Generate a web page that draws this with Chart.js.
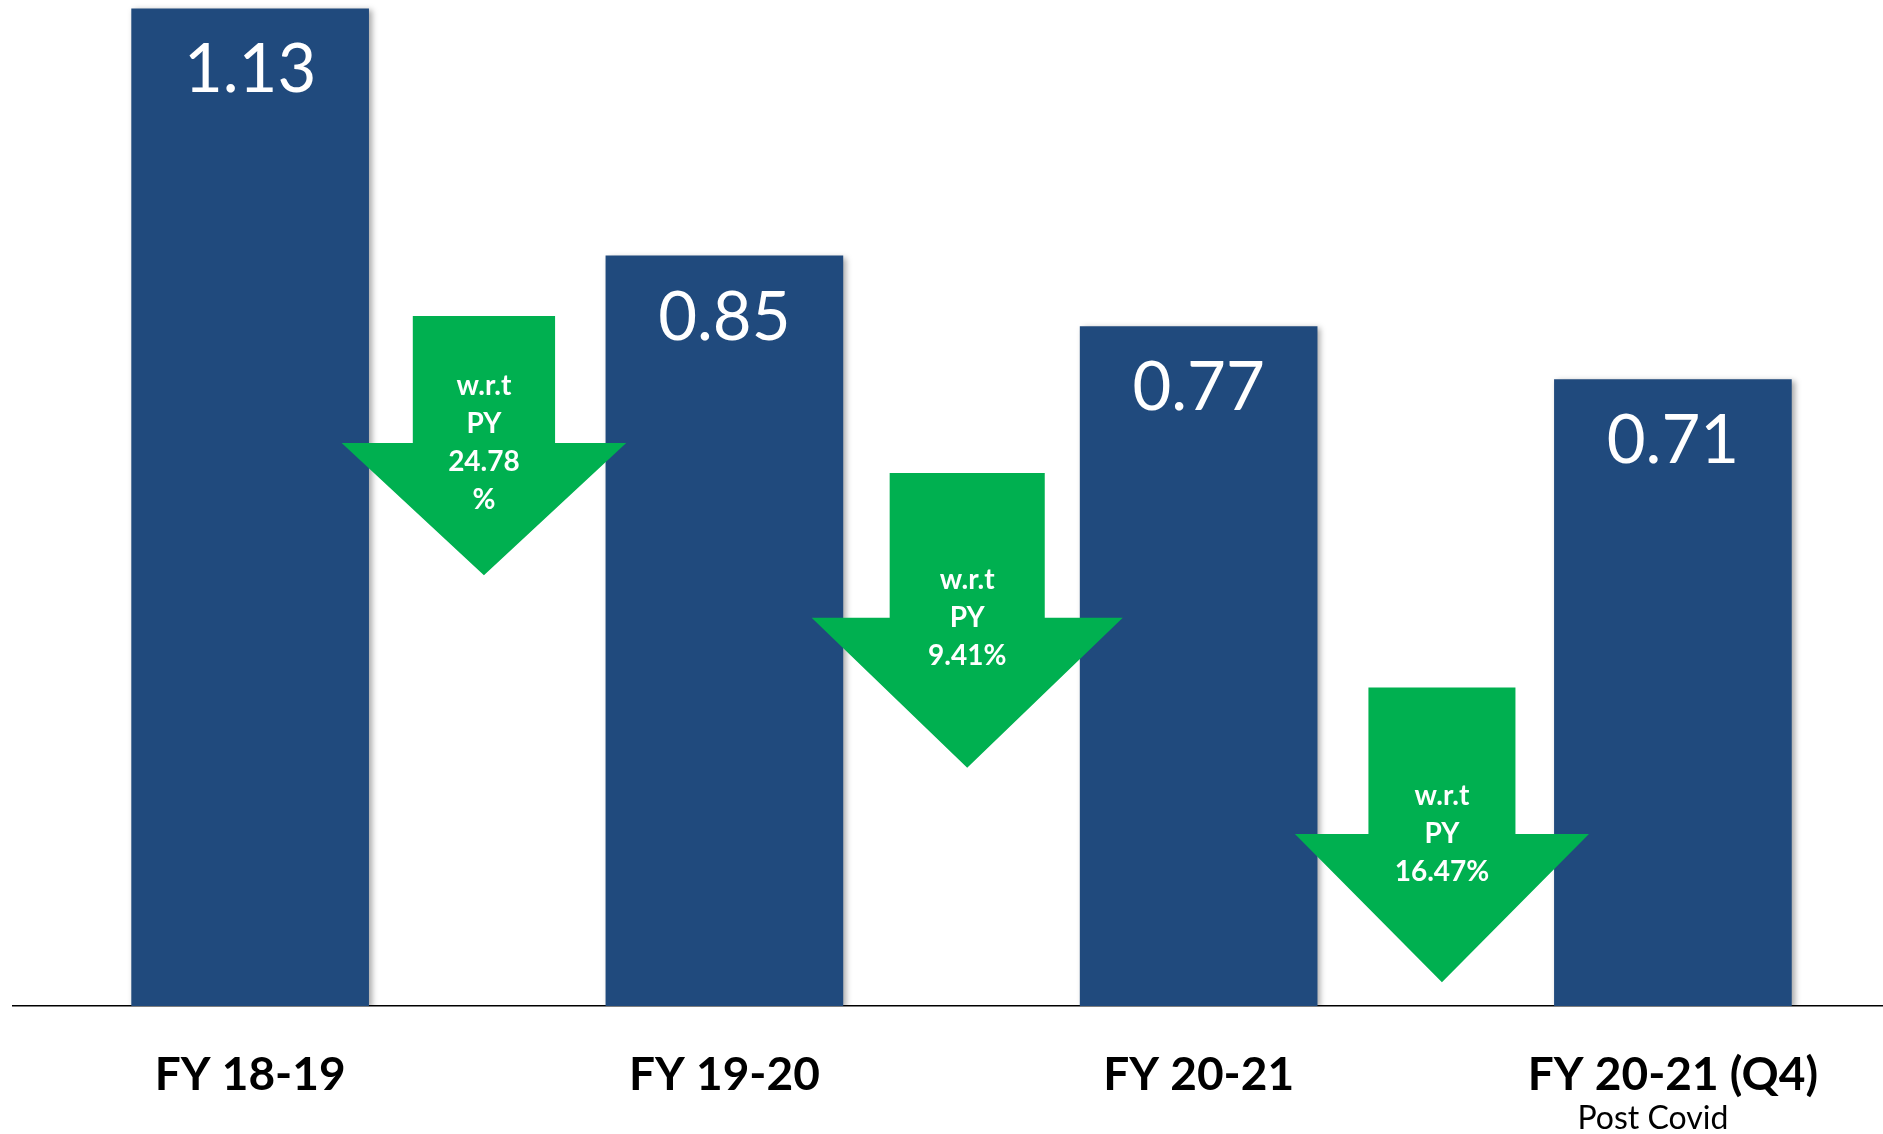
<!DOCTYPE html>
<html>
<head>
<meta charset="utf-8">
<script src="https://cdn.jsdelivr.net/npm/chart.js@4.4.0/dist/chart.umd.min.js"></script>
<style>
  html, body { margin: 0; padding: 0; background: #fff; }
  #wrap { width: 1883px; height: 1134px; }
</style>
</head>
<body>
<div id="wrap"><canvas id="c"></canvas></div>
<script>
// ── data ────────────────────────────────────────────────
const categories = ['FY 18-19', 'FY 19-20', 'FY 20-21', 'FY 20-21 (Q4)'];
const subLabels = ['', '', '', 'Post Covid'];
const values = [1.13, 0.85, 0.77, 0.71];
const dropLabels = [
  ['w.r.t', 'PY', '24.78', '%'],
  ['w.r.t', 'PY', '9.41%'],
  ['w.r.t', 'PY', '16.47%'],
];

const theme = {
  bar: '#204a7d',
  arrow: '#00b050',
  text: '#000000',
  font: 'Lato, "Open Sans", sans-serif',
};

// arrow shapes, in scale units (x = category index, y = value)
const arrowShapes = [
  { cx: 0.493, top: 0.782, neck: 0.638, tip: 0.488, shaft: 0.30, head: 0.60 },
  { cx: 1.512, top: 0.604, neck: 0.440, tip: 0.270, shaft: 0.327, head: 0.656 },
  { cx: 2.513, top: 0.361, neck: 0.195, tip: 0.027, shaft: 0.31, head: 0.62 },
];

// soft shadow behind the bars
const barShadow = {
  id: 'barShadow',
  beforeDatasetsDraw(chart) {
    const ctx = chart.ctx;
    ctx.save();
    ctx.shadowColor = 'rgba(0,0,0,0.35)';
    ctx.shadowBlur = 6;
    ctx.shadowOffsetX = 3;
    ctx.shadowOffsetY = 2;
  },
  afterDatasetsDraw(chart) {
    chart.ctx.restore();
  },
};

// value labels + drop arrows + sub label
const overlay = {
  id: 'overlay',
  afterDraw(chart) {
    const ctx = chart.ctx;
    const xs = chart.scales.x, ys = chart.scales.y;
    const meta = chart.getDatasetMeta(0);
    ctx.save();

    // values inside the bars
    ctx.fillStyle = '#ffffff';
    ctx.font = `400 67px ${theme.font}`;
    ctx.textAlign = 'center';
    ctx.textBaseline = 'middle';
    meta.data.forEach((bar, i) => {
      ctx.fillText(values[i].toFixed(2), bar.x, bar.y + 62);
    });

    // green down arrows between the bars
    arrowShapes.forEach((a, i) => {
      const cx = xs.getPixelForValue(a.cx);
      const unit = xs.getPixelForValue(1) - xs.getPixelForValue(0);
      const top = ys.getPixelForValue(a.top);
      const neck = ys.getPixelForValue(a.neck);
      const tip = ys.getPixelForValue(a.tip);
      const sw = a.shaft * unit / 2, hw = a.head * unit / 2;
      ctx.fillStyle = theme.arrow;
      ctx.beginPath();
      ctx.moveTo(cx - sw, top);
      ctx.lineTo(cx + sw, top);
      ctx.lineTo(cx + sw, neck);
      ctx.lineTo(cx + hw, neck);
      ctx.lineTo(cx, tip);
      ctx.lineTo(cx - hw, neck);
      ctx.lineTo(cx - sw, neck);
      ctx.closePath();
      ctx.fill();

      const lines = dropLabels[i];
      const lh = 38;
      ctx.fillStyle = '#ffffff';
      ctx.font = `700 28px ${theme.font}`;
      const y0 = neck - (lines.length - 1) * lh / 2;
      lines.forEach((t, k) => ctx.fillText(t, cx, y0 + k * lh));
    });

    // second line under the last category
    ctx.fillStyle = theme.text;
    ctx.font = `400 32px ${theme.font}`;
    subLabels.forEach((t, i) => {
      if (!t) return;
      ctx.fillText(t, xs.getPixelForValue(i) - 20, 1119);
    });
    ctx.restore();
  },
};

new Chart(document.getElementById('c'), {
  type: 'bar',
  data: {
    datasets: [{
      data: values.map((v, i) => ({ x: i, y: v })),
      backgroundColor: theme.bar,
      borderWidth: 0,
      barThickness: 237,
    }],
  },
  options: {
    responsive: true,
    maintainAspectRatio: false,
    animation: false,
    layout: { padding: { left: 13, right: 0, top: 0, bottom: 0 } },
    scales: {
      x: {
        type: 'linear',
        offset: false,
        min: -0.5,
        max: 3.443,
        grid: { display: false, drawTicks: false },
        border: { display: true, color: '#000000', width: 1.5 },
        afterBuildTicks: (scale) => { scale.ticks = categories.map((_, i) => ({ value: i })); },
        afterFit: (scale) => { scale.height = 128; },
        ticks: {
          autoSkip: false,
          maxRotation: 0,
          padding: 42,
          color: theme.text,
          font: { family: theme.font, size: 46, weight: '700' },
          callback: (v) => categories[v] ?? '',
        },
      },
      y: {
        display: false,
        min: 0,
        max: 1.14,
      },
    },
    plugins: {
      legend: { display: false },
      tooltip: { enabled: false },
    },
  },
  plugins: [barShadow, overlay],
});
</script>
</body>
</html>
